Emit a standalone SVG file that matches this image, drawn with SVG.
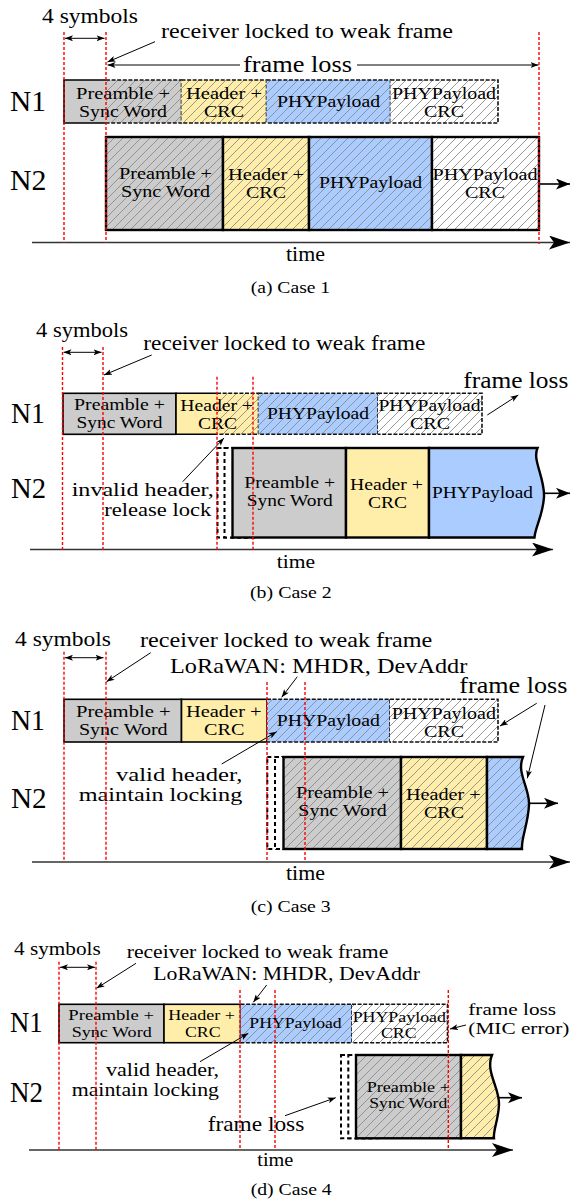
<svg xmlns="http://www.w3.org/2000/svg" width="571" height="1203" viewBox="0 0 571 1203">
<defs>
<style>
text{font-family:"Liberation Serif","Times New Roman",serif;fill:#000}
.lab{font-size:29px}
.box{font-size:16px;text-anchor:middle}
.box4{font-size:15px;text-anchor:middle}
.red{stroke:#ff0000;stroke-width:1.4;stroke-dasharray:3 2;fill:none}
.axis{stroke:#333;stroke-width:1.6;fill:none;marker-end:url(#big)}
.pt{stroke:#000;stroke-width:1;fill:none;marker-end:url(#sm)}
.dbl{stroke:#000;stroke-width:1;fill:none;marker-start:url(#sm);marker-end:url(#sm)}
.out{stroke:#000;stroke-width:1.6;fill:none;marker-end:url(#mid)}
.s1{stroke:#000;stroke-width:1.6;fill:none}
.d1{stroke:#111;stroke-width:1.6;fill:none;stroke-dasharray:4 1.6}
.s2{stroke:#000;stroke-width:2.4;fill:none}
.ghost{stroke:#000;stroke-width:2;stroke-dasharray:4 3;fill:#fff}
.g{fill:#cccccc}.y{fill:#ffeeaa}.b{fill:#aaccff}.w{fill:#ffffff}
.h{fill:url(#hatch)}
</style>
<pattern id="hatch" patternUnits="userSpaceOnUse" width="9" height="9">
<path d="M-1,1 L1,-1 M0,9 L9,0 M8,10 L10,8" stroke="#8c8c8c" stroke-width="0.9"/>
</pattern>
<marker id="sm" viewBox="0 0 8 6" markerWidth="8" markerHeight="6" refX="8" refY="3" orient="auto-start-reverse" markerUnits="userSpaceOnUse"><path d="M0,0 L8,3 L0,6 L2,3 Z" fill="#000"/></marker>
<marker id="mid" viewBox="0 0 14 11" markerWidth="14" markerHeight="11" refX="14" refY="5.5" orient="auto" markerUnits="userSpaceOnUse"><path d="M0,0 L14,5.5 L0,11 L3.5,5.5 Z" fill="#000"/></marker>
<marker id="big" viewBox="0 0 21 14" markerWidth="21" markerHeight="14" refX="21" refY="7" orient="auto" markerUnits="userSpaceOnUse"><path d="M0,0 L21,7 L0,14 L5,7 Z" fill="#000"/></marker>
</defs>
<rect width="571" height="1203" fill="#fff"/>

<!-- ================= CASE 1 ================= -->
<g id="case1">
<g id="a-n1-pre"><rect class="g" x="64" y="80" width="117.5" height="43"/><rect class="h" x="106" y="80" width="75.5" height="43"/>
<path class="s1" d="M106,80 H64 V123 H106"/><path class="d1" d="M106,80 H181.5 V123 H106"/>
<text class="box" x="123" y="98.5" textLength="94" lengthAdjust="spacingAndGlyphs">Preamble +</text>
<text class="box" x="123" y="116.5" textLength="88" lengthAdjust="spacingAndGlyphs">Sync Word</text></g>
<g id="a-n1-hdr"><rect class="y" x="181.5" y="80" width="85" height="43"/><rect class="h" x="181.5" y="80" width="85" height="43"/>
<path class="d1" d="M181.5,80 H266.5 V123 H181.5"/>
<text class="box" x="224" y="98.5" textLength="76" lengthAdjust="spacingAndGlyphs">Header +</text>
<text class="box" x="224" y="116.5" textLength="40" lengthAdjust="spacingAndGlyphs">CRC</text></g>
<g id="a-n1-phy"><rect class="b" x="266.5" y="80" width="124" height="43"/><rect class="h" x="266.5" y="80" width="124" height="43"/>
<path class="d1" d="M266.5,80 H390.5 V123 H266.5"/>
<text class="box" x="328.5" y="107" textLength="103" lengthAdjust="spacingAndGlyphs">PHYPayload</text></g>
<g id="a-n1-crc"><rect class="w" x="390.5" y="80" width="107.5" height="43"/><rect class="h" x="390.5" y="80" width="107.5" height="43"/>
<path class="d1" d="M390.5,80 H498 V123 H390.5"/>
<text class="box" x="444" y="99" textLength="104" lengthAdjust="spacingAndGlyphs">PHYPayload</text>
<text class="box" x="444" y="117" textLength="40" lengthAdjust="spacingAndGlyphs">CRC</text></g>

<g id="a-n2-pre"><rect class="g" x="106" y="137" width="117" height="93"/><rect class="h" x="106" y="137" width="117" height="93"/>
<rect class="s2" x="106" y="137" width="117" height="93"/>
<text class="box" x="165.5" y="179" textLength="93" lengthAdjust="spacingAndGlyphs">Preamble +</text>
<text class="box" x="165.5" y="197" textLength="89" lengthAdjust="spacingAndGlyphs">Sync Word</text></g>
<g id="a-n2-hdr"><rect class="y" x="223" y="137" width="86" height="93"/><rect class="h" x="223" y="137" width="86" height="93"/>
<rect class="s2" x="223" y="137" width="86" height="93"/>
<text class="box" x="266" y="179.5" textLength="76" lengthAdjust="spacingAndGlyphs">Header +</text>
<text class="box" x="266" y="197.5" textLength="40" lengthAdjust="spacingAndGlyphs">CRC</text></g>
<g id="a-n2-phy"><rect class="b" x="309" y="137" width="123" height="93"/><rect class="h" x="309" y="137" width="123" height="93"/>
<rect class="s2" x="309" y="137" width="123" height="93"/>
<text class="box" x="370.5" y="188" textLength="103" lengthAdjust="spacingAndGlyphs">PHYPayload</text></g>
<g id="a-n2-crc"><rect class="w" x="432" y="137" width="107" height="93"/><rect class="h" x="432" y="137" width="107" height="93"/>
<rect class="s2" x="432" y="137" width="107" height="93"/>
<text class="box" x="485" y="180" textLength="105" lengthAdjust="spacingAndGlyphs">PHYPayload</text>
<text class="box" x="485" y="198" textLength="40" lengthAdjust="spacingAndGlyphs">CRC</text></g>

<g id="a-labels">
<text class="lab" x="10" y="110.5" textLength="36" lengthAdjust="spacingAndGlyphs">N1</text>
<text class="lab" x="10" y="190" textLength="36.5" lengthAdjust="spacingAndGlyphs">N2</text>
<text x="42" y="23" font-size="21" textLength="96" lengthAdjust="spacingAndGlyphs">4 symbols</text>
<text x="161" y="37.7" font-size="21" textLength="292" lengthAdjust="spacingAndGlyphs">receiver locked to weak frame</text>
<text x="243" y="71.7" font-size="24" textLength="109" lengthAdjust="spacingAndGlyphs">frame loss</text>
<text x="286" y="261" font-size="20" textLength="39" lengthAdjust="spacingAndGlyphs">time</text>
<text x="250.7" y="292.7" font-size="17.5" textLength="79.5" lengthAdjust="spacingAndGlyphs">(a) Case 1</text>
</g>
</g>

<!-- ================= CASE 2 ================= -->
<g id="case2">
<g id="b-n1-pre"><rect class="g" x="63" y="393.3" width="113" height="41"/>
<rect class="s1" x="63" y="393.3" width="113" height="41"/>
<text class="box" x="119.5" y="409.5" textLength="91" lengthAdjust="spacingAndGlyphs">Preamble +</text>
<text class="box" x="119.5" y="427.5" textLength="86" lengthAdjust="spacingAndGlyphs">Sync Word</text></g>
<g id="b-n1-hdr"><rect class="y" x="176" y="393.3" width="82.5" height="41"/><rect class="h" x="217" y="393.3" width="41.5" height="41"/>
<path class="s1" d="M217,393.3 H176 V434.3 H217"/><path class="d1" d="M217,393.3 H258.5 V434.3 H217"/>
<text class="box" x="216.7" y="410.5" textLength="73" lengthAdjust="spacingAndGlyphs">Header +</text>
<text class="box" x="217.5" y="428.5" textLength="39" lengthAdjust="spacingAndGlyphs">CRC</text></g>
<g id="b-n1-phy"><rect class="b" x="258.5" y="393.3" width="119.5" height="41"/><rect class="h" x="258.5" y="393.3" width="119.5" height="41"/>
<path class="d1" d="M258.5,393.3 H378 V434.3 H258.5"/>
<text class="box" x="318" y="419.3" textLength="102" lengthAdjust="spacingAndGlyphs">PHYPayload</text></g>
<g id="b-n1-crc"><rect class="w" x="378" y="393.3" width="104" height="41"/><rect class="h" x="378" y="393.3" width="104" height="41"/>
<path class="d1" d="M378,393.3 H482 V434.3 H378"/>
<text class="box" x="429.5" y="411" textLength="102" lengthAdjust="spacingAndGlyphs">PHYPayload</text>
<text class="box" x="430" y="429" textLength="40" lengthAdjust="spacingAndGlyphs">CRC</text></g>

<g id="b-n2-ghost"><rect class="ghost" x="217.5" y="448" width="30" height="89.5"/><rect class="ghost" x="224.5" y="448" width="30" height="89.5"/></g>
<g id="b-n2-pre"><rect class="g" x="232.5" y="448" width="113.5" height="89.5"/>
<rect class="s2" x="232.5" y="448" width="113.5" height="89.5"/>
<text class="box" x="289.7" y="487.5" textLength="91" lengthAdjust="spacingAndGlyphs">Preamble +</text>
<text class="box" x="289.7" y="505.5" textLength="86" lengthAdjust="spacingAndGlyphs">Sync Word</text></g>
<g id="b-n2-hdr"><rect class="y" x="346" y="448" width="83" height="89.5"/>
<rect class="s2" x="346" y="448" width="83" height="89.5"/>
<text class="box" x="386.5" y="489.5" textLength="73" lengthAdjust="spacingAndGlyphs">Header +</text>
<text class="box" x="387.5" y="507.5" textLength="39" lengthAdjust="spacingAndGlyphs">CRC</text></g>
<g id="b-n2-phy"><path class="b" d="M429,448 H537.5 C532,460 545,478 544,497 C543,515 535,528 534.5,537.5 H429 Z"/>
<path class="s2" d="M429,448 H537.5 C532,460 545,478 544,497 C543,515 535,528 534.5,537.5 H429 Z"/>
<text class="box" x="482.5" y="498" textLength="101" lengthAdjust="spacingAndGlyphs">PHYPayload</text></g>

<g id="b-labels">
<text class="lab" x="11" y="423" font-size="28" textLength="34" lengthAdjust="spacingAndGlyphs">N1</text>
<text class="lab" x="11" y="498" font-size="28" textLength="35" lengthAdjust="spacingAndGlyphs">N2</text>
<text x="36" y="336.7" font-size="20.5" textLength="92" lengthAdjust="spacingAndGlyphs">4 symbols</text>
<text x="143.3" y="350" font-size="20.5" textLength="282" lengthAdjust="spacingAndGlyphs">receiver locked to weak frame</text>
<text x="463.3" y="388.3" font-size="23" textLength="105" lengthAdjust="spacingAndGlyphs">frame loss</text>
<text x="71.7" y="495.5" font-size="18" textLength="142" lengthAdjust="spacingAndGlyphs">invalid header,</text>
<text x="104.3" y="515.5" font-size="18" textLength="107" lengthAdjust="spacingAndGlyphs">release lock</text>
<text x="276.7" y="567.7" font-size="19.5" textLength="38.3" lengthAdjust="spacingAndGlyphs">time</text>
<text x="250" y="598.3" font-size="17.5" textLength="81.7" lengthAdjust="spacingAndGlyphs">(b) Case 2</text>
</g>
</g>

<!-- ================= CASE 3 ================= -->
<g id="case3">
<g id="c-n1-pre"><rect class="g" x="64" y="699.3" width="117.5" height="42.7"/>
<rect class="s1" x="64" y="699.3" width="117.5" height="42.7"/>
<text class="box" x="123.3" y="716.7" textLength="94.7" lengthAdjust="spacingAndGlyphs">Preamble +</text>
<text class="box" x="123.3" y="735" textLength="88.7" lengthAdjust="spacingAndGlyphs">Sync Word</text></g>
<g id="c-n1-hdr"><rect class="y" x="181.5" y="699.3" width="85.5" height="42.7"/>
<rect class="s1" x="181.5" y="699.3" width="85.5" height="42.7"/>
<text class="box" x="223.8" y="716.7" textLength="75.7" lengthAdjust="spacingAndGlyphs">Header +</text>
<text class="box" x="224.2" y="735" textLength="40.3" lengthAdjust="spacingAndGlyphs">CRC</text></g>
<g id="c-n1-phy"><rect class="b" x="267" y="699.3" width="123" height="42.7"/><rect class="h" x="267" y="699.3" width="123" height="42.7"/>
<path class="d1" d="M267,699.3 H390 V742 H267"/>
<text class="box" x="328.3" y="726" textLength="103.3" lengthAdjust="spacingAndGlyphs">PHYPayload</text></g>
<g id="c-n1-crc"><rect class="w" x="390" y="699.3" width="108" height="42.7"/><rect class="h" x="390" y="699.3" width="108" height="42.7"/>
<path class="d1" d="M390,699.3 H498 V742 H390"/>
<text class="box" x="443.8" y="718.8" textLength="104.3" lengthAdjust="spacingAndGlyphs">PHYPayload</text>
<text class="box" x="444" y="736.8" textLength="40" lengthAdjust="spacingAndGlyphs">CRC</text></g>

<g id="c-n2-ghost"><rect class="ghost" x="267.3" y="757" width="30" height="92"/><rect class="ghost" x="275" y="757" width="30" height="92"/></g>
<g id="c-n2-pre"><rect class="g" x="283.5" y="757" width="117.5" height="92"/><rect class="h" x="283.5" y="757" width="117.5" height="92"/>
<rect class="s2" x="283.5" y="757" width="117.5" height="92"/>
<text class="box" x="342.5" y="798" textLength="93" lengthAdjust="spacingAndGlyphs">Preamble +</text>
<text class="box" x="342.5" y="816" textLength="88.4" lengthAdjust="spacingAndGlyphs">Sync Word</text></g>
<g id="c-n2-hdr"><rect class="y" x="401" y="757" width="86" height="92"/><rect class="h" x="401" y="757" width="86" height="92"/>
<rect class="s2" x="401" y="757" width="86" height="92"/>
<text class="box" x="443.3" y="799.8" textLength="74.7" lengthAdjust="spacingAndGlyphs">Header +</text>
<text class="box" x="444" y="817.8" textLength="40" lengthAdjust="spacingAndGlyphs">CRC</text></g>
<g id="c-n2-phy"><path class="b" d="M487,757 H523 C516,773 530,788 529,805 C528,825 521,838 522,849 H487 Z"/>
<path class="h" d="M487,757 H523 C516,773 530,788 529,805 C528,825 521,838 522,849 H487 Z"/>
<path class="s2" d="M487,757 H523 C516,773 530,788 529,805 C528,825 521,838 522,849 H487 Z"/></g>

<g id="c-labels">
<text class="lab" x="11" y="730" textLength="34" lengthAdjust="spacingAndGlyphs">N1</text>
<text class="lab" x="11" y="808.3" textLength="35.7" lengthAdjust="spacingAndGlyphs">N2</text>
<text x="15" y="646" font-size="21" textLength="96" lengthAdjust="spacingAndGlyphs">4 symbols</text>
<text x="140" y="646.7" font-size="21" textLength="292.3" lengthAdjust="spacingAndGlyphs">receiver locked to weak frame</text>
<text x="170" y="673.3" font-size="21" textLength="297.3" lengthAdjust="spacingAndGlyphs">LoRaWAN: MHDR, DevAddr</text>
<text x="459.3" y="693.3" font-size="24" textLength="108" lengthAdjust="spacingAndGlyphs">frame loss</text>
<text x="116" y="780.5" font-size="18.5" textLength="126.3" lengthAdjust="spacingAndGlyphs">valid header,</text>
<text x="78.7" y="801" font-size="18.5" textLength="163.6" lengthAdjust="spacingAndGlyphs">maintain locking</text>
<text x="286" y="880" font-size="20" textLength="39" lengthAdjust="spacingAndGlyphs">time</text>
<text x="250.7" y="911.7" font-size="17.5" textLength="80" lengthAdjust="spacingAndGlyphs">(c) Case 3</text>
</g>
</g>

<!-- ================= CASE 4 ================= -->
<g id="case4">
<g id="d-n1-pre"><rect class="g" x="59" y="1004.3" width="105" height="38.4"/>
<rect class="s1" x="59" y="1004.3" width="105" height="38.4"/>
<text class="box4" x="111.2" y="1020" textLength="85.7" lengthAdjust="spacingAndGlyphs">Preamble +</text>
<text class="box4" x="111.7" y="1036.8" textLength="80" lengthAdjust="spacingAndGlyphs">Sync Word</text></g>
<g id="d-n1-hdr"><rect class="y" x="164" y="1004.3" width="76.5" height="38.4"/>
<rect class="s1" x="164" y="1004.3" width="76.5" height="38.4"/>
<text class="box4" x="201.7" y="1020" textLength="66.7" lengthAdjust="spacingAndGlyphs">Header +</text>
<text class="box4" x="202.8" y="1036.8" textLength="35.7" lengthAdjust="spacingAndGlyphs">CRC</text></g>
<g id="d-n1-phy"><rect class="b" x="240.5" y="1004.3" width="111.5" height="38.4"/><rect class="h" x="240.5" y="1004.3" width="111.5" height="38.4"/>
<path class="d1" d="M240.5,1004.3 H352 V1042.7 H240.5"/>
<text class="box4" x="295.5" y="1028.3" textLength="92.4" lengthAdjust="spacingAndGlyphs">PHYPayload</text></g>
<g id="d-n1-crc"><rect class="w" x="352" y="1004.3" width="95.5" height="38.4"/><rect class="h" x="352" y="1004.3" width="95.5" height="38.4"/>
<path class="d1" d="M352,1004.3 H447.5 V1042.7 H352"/>
<text class="box4" x="399.3" y="1021.5" textLength="93.3" lengthAdjust="spacingAndGlyphs">PHYPayload</text>
<text class="box4" x="398.8" y="1038.3" textLength="35.7" lengthAdjust="spacingAndGlyphs">CRC</text></g>

<g id="d-n2-ghost"><rect class="ghost" x="341" y="1055" width="30" height="83.3"/><rect class="ghost" x="348.3" y="1055" width="30" height="83.3"/></g>
<g id="d-n2-pre"><rect class="g" x="356" y="1055" width="105" height="83.3"/><rect class="h" x="356" y="1055" width="105" height="83.3"/>
<rect class="s2" x="356" y="1055" width="105" height="83.3"/>
<text class="box4" x="408.3" y="1091.5" textLength="83.3" lengthAdjust="spacingAndGlyphs">Preamble +</text>
<text class="box4" x="408.3" y="1108.3" textLength="78" lengthAdjust="spacingAndGlyphs">Sync Word</text></g>
<g id="d-n2-hdr"><path class="y" d="M461,1055 H492 C485,1072 500,1088 499,1105 C498,1122 493,1130 494,1138.3 H461 Z"/>
<path class="h" d="M461,1055 H492 C485,1072 500,1088 499,1105 C498,1122 493,1130 494,1138.3 H461 Z"/>
<path class="s2" d="M461,1055 H492 C485,1072 500,1088 499,1105 C498,1122 493,1130 494,1138.3 H461 Z"/></g>

<g id="d-labels">
<text class="lab" x="10" y="1031.7" font-size="26" textLength="32.7" lengthAdjust="spacingAndGlyphs">N1</text>
<text class="lab" x="10" y="1101.7" font-size="26" textLength="33" lengthAdjust="spacingAndGlyphs">N2</text>
<text x="14" y="955" font-size="19" textLength="86.7" lengthAdjust="spacingAndGlyphs">4 symbols</text>
<text x="126.7" y="958.3" font-size="19" textLength="261.6" lengthAdjust="spacingAndGlyphs">receiver locked to weak frame</text>
<text x="153.3" y="980" font-size="19" textLength="266.7" lengthAdjust="spacingAndGlyphs">LoRaWAN: MHDR, DevAddr</text>
<text x="468.3" y="1015" font-size="17" textLength="87.7" lengthAdjust="spacingAndGlyphs">frame loss</text>
<text x="468.3" y="1034" font-size="17" textLength="101" lengthAdjust="spacingAndGlyphs">(MIC error)</text>
<text x="106" y="1076" font-size="18" textLength="113" lengthAdjust="spacingAndGlyphs">valid header,</text>
<text x="71.7" y="1096" font-size="18" textLength="147.3" lengthAdjust="spacingAndGlyphs">maintain locking</text>
<text x="207.7" y="1131" font-size="21.5" textLength="96.6" lengthAdjust="spacingAndGlyphs">frame loss</text>
<text x="257.3" y="1165.7" font-size="18" textLength="36" lengthAdjust="spacingAndGlyphs">time</text>
<text x="250.7" y="1195" font-size="17.5" textLength="81" lengthAdjust="spacingAndGlyphs">(d) Case 4</text>
</g>
</g>

<!-- ================= CONNECTORS ================= -->
<g id="connectors">
<!-- case 1 -->
<path class="out" d="M539,184 H570"/>
<path class="axis" d="M32,242.5 H570"/>
<path class="dbl" d="M65,38.3 H104.5"/>
<path class="pt" d="M155,41.7 L107.5,62"/>
<path class="pt" d="M240,65 H107.5"/>
<path class="pt" d="M357,65 H538.5"/>
<path class="red" d="M64,32 V243 M106,32 V243 M539,32 V244"/>
<!-- case 2 -->
<path class="out" d="M544,493.3 H570"/>
<path class="axis" d="M30,549.5 H553"/>
<path class="dbl" d="M63.5,352.3 H101.5"/>
<path class="pt" d="M151.7,355 L104,375"/>
<path class="pt" d="M487.3,415 L518.3,395"/>
<path class="pt" d="M182.7,481.7 L224,438"/>
<path class="red" d="M62.5,347 V550 M103,347 V550 M217,376.7 V550 M253,376.7 V550"/>
<!-- case 3 -->
<path class="out" d="M529,803.3 H558"/>
<path class="axis" d="M32,862 H570"/>
<path class="dbl" d="M65,657.7 H103.5"/>
<path class="pt" d="M150.7,652.7 L106.5,681.7"/>
<path class="pt" d="M297.3,676.7 L281.7,697.3"/>
<path class="pt" d="M536.7,703.3 L500,726"/>
<path class="pt" d="M545,705 L527.3,778.3"/>
<path class="pt" d="M221.7,764 L276.7,731.7"/>
<path class="red" d="M64,651.7 V862 M106,651.7 V862 M267,682 V862 M305,682 V862"/>
<!-- case 4 -->
<path class="out" d="M499,1097.7 H522"/>
<path class="axis" d="M29,1150 H513"/>
<path class="dbl" d="M60,967.3 H95"/>
<path class="pt" d="M136,963.3 L96.5,988.3"/>
<path class="pt" d="M266.7,985 L253.3,1002.3"/>
<path class="pt" d="M466,1025 L450,1029"/>
<path class="pt" d="M200,1061.7 L248.3,1033.3"/>
<path class="pt" d="M285,1115.7 L335.7,1097.7"/>
<path class="red" d="M59,961.7 V1150 M96,961.7 V1150 M240,990 V1150 M275,990 V1150 M448.3,990 V1150"/>
</g>
</svg>
